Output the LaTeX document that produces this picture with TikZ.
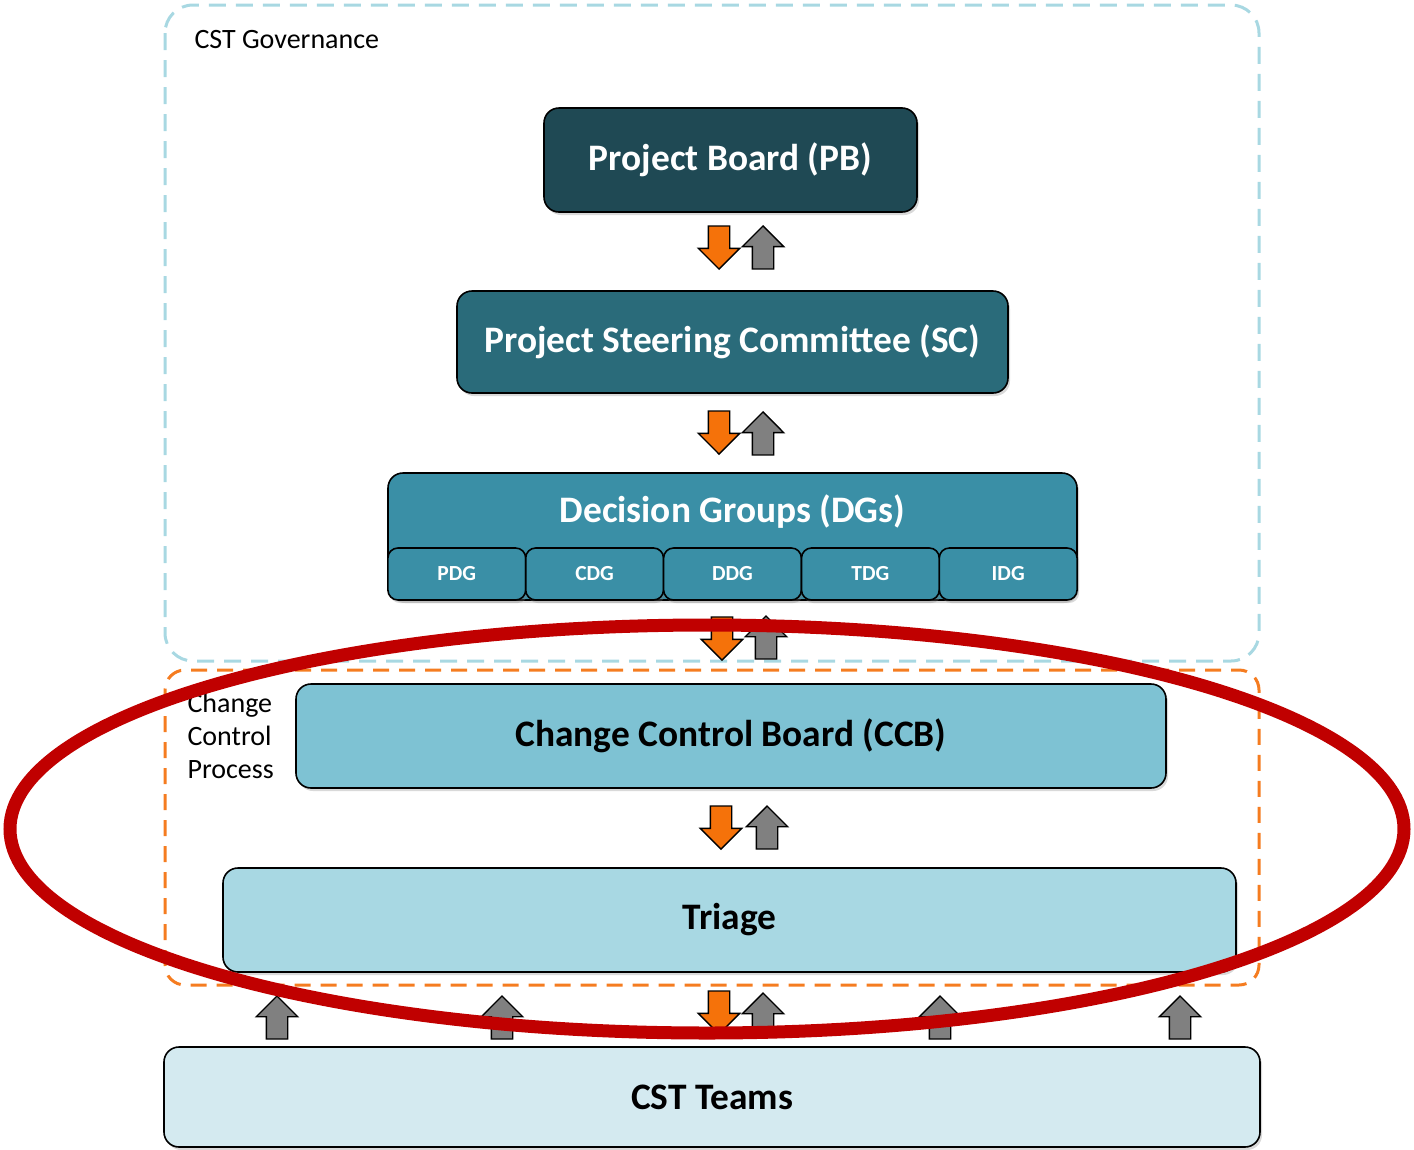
\documentclass[tikz,border=0pt]{standalone}
\usepackage{fontspec}
\setmainfont{Carlito}
\usepackage{xcolor}
\usepackage{tikz}
\usetikzlibrary{shapes,shapes.arrows,positioning,shadows,calc}
\definecolor{pbfill}{RGB}{31,73,84}
\definecolor{scfill}{RGB}{42,107,122}
\definecolor{dgfill}{RGB}{58,143,166}
\definecolor{ccbfill}{RGB}{126,194,211}
\definecolor{trifill}{RGB}{168,216,227}
\definecolor{cstfill}{RGB}{212,234,240}
\definecolor{govdash}{RGB}{168,216,226}
\definecolor{ccpdash}{RGB}{245,124,32}
\definecolor{arrorange}{RGB}{245,114,10}
\definecolor{arrgray}{RGB}{128,128,128}
\definecolor{ringred}{RGB}{192,0,0}
\tikzset{
    block/.style={rectangle, draw, line width=1.6pt, rounded corners=15pt, text centered, font=\bfseries\fontsize{37.4}{42}\selectfont, drop shadow={shadow xshift=2pt, shadow yshift=-3pt, opacity=0.3}},
    subblock/.style={block, rounded corners=10pt, fill=dgfill, text=white, minimum width=137.8pt, minimum height=52pt, font=\bfseries\fontsize{21.5}{24}\selectfont},
    blockarr/.style={single arrow, draw, line width=1.4pt, minimum height=43pt, inner sep=10pt, single arrow head extend=10pt, anchor=tip},
    downarr/.style={blockarr, fill=arrorange, rotate=270},
    uparr/.style={blockarr, fill=arrgray, rotate=90},
    govbox/.style={draw=govdash, line width=3pt, dash pattern=on 17pt off 10pt, rounded corners=28pt},
    ccpbox/.style={draw=ccpdash, line width=3pt, dash pattern=on 16pt off 10pt, rounded corners=20pt},
    areatext/.style={font=\fontsize{28}{33}\selectfont, align=left}
}
\begin{document}
\begin{tikzpicture}[x=1pt, y=-1pt]
    \useasboundingbox (0,0) rectangle (1414,1149);

    % Dashed areas
    \draw[govbox] (165,5) rectangle (1259,661);
    \draw[ccpbox] (165,670) rectangle (1259,985);
    \node[areatext, anchor=west] (govlabel) at (191,40) {CST Governance};
    \node[areatext, anchor=west] (ccplabel) at (184,736) {Change\\Control\\Process};

    % Governance
    \node [block, fill=pbfill, text=white, minimum width=373pt, minimum height=104pt] (pb) at (730.5,160) {Project Board (PB)};
    \node [block, fill=scfill, text=white, minimum width=551pt, minimum height=102pt] (sc) at (732.5,342) {Project Steering Committee (SC)};
    \node [block, fill=dgfill, minimum width=689pt, minimum height=127pt] (dg) at (732.5,536.5) {};
    \node [text=white, font=\bfseries\fontsize{37.4}{42}\selectfont] (dgtitle) at (732.5,512) {Decision Groups (DGs)};

    % Decision groups
    \node [subblock] (pdg) at (456.8,574) {PDG};
    \node [subblock] (cdg) at (594.6,574) {CDG};
    \node [subblock] (ddg) at (732.5,574) {DDG};
    \node [subblock] (tdg) at (870.4,574) {TDG};
    \node [subblock] (idg) at (1008.2,574) {IDG};

    % Change control
    \node [block, fill=ccbfill, minimum width=870pt, minimum height=104pt] (ccb) at (731,736) {Change Control Board (CCB)};
    \node [block, fill=trifill, minimum width=1013pt, minimum height=104pt] (tri) at (729.5,920) {Triage};
    \node [block, fill=cstfill, minimum width=1096pt, minimum height=100pt] (cst) at (712,1097) {CST Teams};

    % Arrows (placed by their tips)
    \node [downarr] (pbdown) at (719,270) {};
    \node [uparr] (pbup) at (763,225) {};
    \node [downarr] (scdown) at (719,455) {};
    \node [uparr] (scup) at (763,411) {};
    \node [downarr] (dgdown) at (722,661) {};
    \node [uparr] (dgup) at (766,615) {};
    \node [downarr] (ccbdown) at (721,850) {};
    \node [uparr] (ccbup) at (767,805) {};
    \node [downarr] (tridown) at (719,1035) {};
    \node [uparr] (triup) at (763,992) {};
    \node [uparr] (cstup1) at (277,995) {};
    \node [uparr] (cstup2) at (502,995) {};
    \node [uparr] (cstup3) at (940,995) {};
    \node [uparr] (cstup4) at (1180,995) {};

    % Highlight
    \draw[ringred, line width=13pt] (707,829) ellipse [x radius=697pt, y radius=204pt];
\end{tikzpicture}
\end{document}
